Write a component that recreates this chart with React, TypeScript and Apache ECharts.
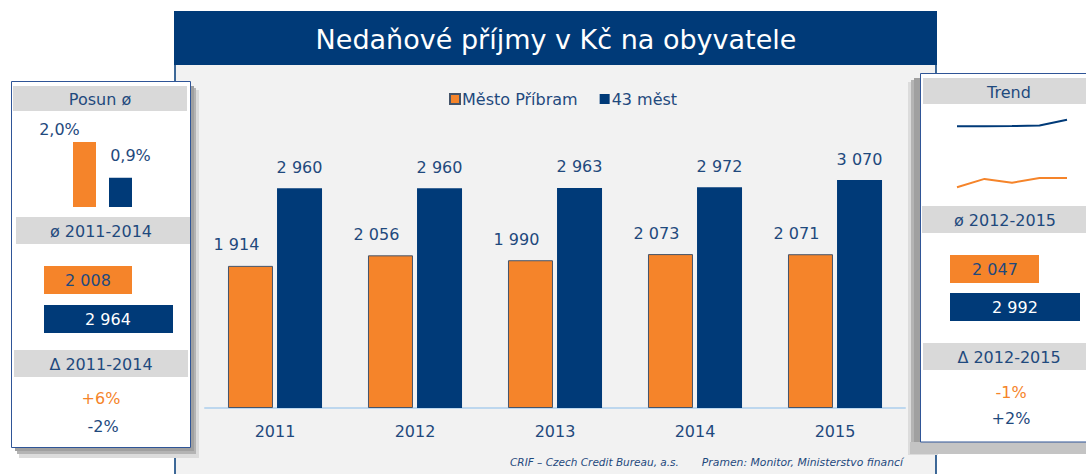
import React, { useEffect, useRef } from "react";
import * as echarts from "echarts";

const years = ["2011", "2012", "2013", "2014", "2015"];
const pribram = [1914, 2056, 1990, 2073, 2071];
const mest43 = [2960, 2960, 2963, 2972, 3070];
const seriesNames = ["Město Příbram", "43 měst"];
const title = "Nedaňové příjmy v Kč na obyvatele";

const shiftTitle = "Posun ø";
const shiftValues = [2.0, 0.9];
const avgLeftLabel = "ø 2011-2014";
const avgLeft = [2008, 2964];
const deltaLeftLabel = "Δ 2011-2014";
const deltaLeft = ["+6%", "-2%"];

const trendTitle = "Trend";
const avgRightLabel = "ø 2012-2015";
const avgRight = [2047, 2992];
const deltaRightLabel = "Δ 2012-2015";
const deltaRight = ["-1%", "+2%"];

const sourceLeft = "CRIF – Czech Credit Bureau, a.s.";
const sourceRight = "Pramen: Monitor, Ministerstvo financí";

const NAVY = "#003A78";
const ORANGE = "#F5842A";
const TXT = "#1F497D";
const BAND = "#D9D9D9";
const BG = "#F2F2F2";
const FONT = "'DejaVu Sans', Verdana, sans-serif";

const fmt = (v: number) => String(v).replace(/\B(?=(\d{3})+(?!\d))/g, " ");

const rect = (x: number, y: number, w: number, h: number, fill: string, extra: any = {}) => ({
  type: "rect",
  shape: { x, y, width: w, height: h },
  style: { fill, ...extra },
  silent: true,
});

const txt = (
  x: number,
  y: number,
  text: string,
  fill: string,
  size = 16,
  align = "center",
  extra: any = {}
) => ({
  type: "text",
  x,
  y,
  silent: true,
  style: {
    text,
    fill,
    fontSize: size,
    fontFamily: FONT,
    align,
    verticalAlign: "middle",
    ...extra,
  },
});

export default function App() {
  const ref = useRef<HTMLDivElement>(null);
  useEffect(() => {
    if (!ref.current) return;
    const chart = echarts.init(ref.current, undefined, { renderer: "svg" });

    const graphics: any[] = [
      // main frame
      rect(175, 64, 761, 420, BG, { stroke: NAVY, lineWidth: 1.5 }),
      rect(174, 11, 763, 54, NAVY),
      txt(556, 39, title, "#FFFFFF", 27),
      // left panel shadow + panel
      rect(19, 90, 180, 368, "#DCDCDC"),
      rect(17, 88, 179, 366, "#B4B4B4"),
      rect(15, 86, 179, 365, "#A0A0A0"),
      rect(11.5, 81.5, 179, 366, "#FFFFFF", { stroke: "#2F5597", lineWidth: 1 }),
      rect(13, 86, 174, 25, BAND),
      txt(100, 99, shiftTitle, TXT),
      rect(16, 217, 174, 27, BAND),
      txt(101, 231, avgLeftLabel, TXT),
      rect(44, 266, 88, 28, ORANGE),
      txt(88, 280, fmt(avgLeft[0]), TXT),
      rect(44, 305, 129, 28, NAVY),
      txt(108, 319, fmt(avgLeft[1]), "#FFFFFF"),
      rect(14, 350, 174, 27, BAND),
      txt(101, 364, deltaLeftLabel, TXT),
      txt(101, 398, deltaLeft[0], ORANGE),
      txt(103, 426, deltaLeft[1], TXT),
      // right panel shadow + panel
      rect(908, 82, 30, 373, "#DCDCDC"),
      rect(911, 80, 30, 371, "#B4B4B4"),
      rect(914, 78, 30, 368, "#A0A0A0"),
      rect(910, 442, 180, 12, "#C4C4C4"),
      rect(920.5, 73.5, 180, 368.5, "#FFFFFF", { stroke: "#2F5597", lineWidth: 1 }),
      rect(923, 78, 163, 26, BAND),
      txt(1009, 92, trendTitle, TXT),
      rect(922, 206, 164, 27, BAND),
      txt(1005, 220, avgRightLabel, TXT),
      rect(950, 255, 89, 28, ORANGE),
      txt(995, 269, fmt(avgRight[0]), TXT),
      rect(950, 293, 130, 28, NAVY),
      txt(1015, 307, fmt(avgRight[1]), "#FFFFFF"),
      rect(923, 343, 163, 27, BAND),
      txt(1009, 357, deltaRightLabel, TXT),
      txt(1011, 392, deltaRight[0], ORANGE),
      txt(1011, 418, deltaRight[1], TXT),
      // footer
      txt(510, 462, sourceLeft, TXT, 10.5, "left", { fontStyle: "italic" }),
      txt(903, 462, sourceRight, TXT, 10.8, "right", { fontStyle: "italic" }),
    ];

    const shiftColors = [ORANGE, NAVY];
    const shiftOffsets = [
      [-25, 0],
      [10, -9],
    ];

    chart.setOption({
      animation: false,
      backgroundColor: "#FFFFFF",
      textStyle: { fontFamily: FONT },
      graphic: { elements: graphics },
      legend: {
        data: seriesNames,
        left: 449,
        top: 91,
        padding: 0,
        itemWidth: 10,
        itemHeight: 10,
        itemGap: 22,
        icon: "rect",
        textStyle: { fontSize: 16, color: TXT, fontFamily: FONT, padding: [0, 0, 0, -3] },
      },
      grid: [
        { left: 205, top: 111, width: 700, height: 297 },
        { left: 66.5, top: 142, width: 72, height: 65 },
        { left: 957, top: 118, width: 110, height: 70 },
      ],
      xAxis: [
        {
          type: "category",
          gridIndex: 0,
          data: years,
          axisLine: { lineStyle: { color: "#BDD7EE", width: 2 } },
          axisTick: { show: false },
          axisLabel: { color: TXT, fontSize: 16, margin: 15, fontFamily: FONT },
        },
        { type: "category", gridIndex: 1, data: ["a", "b"], show: false },
        { type: "category", gridIndex: 2, data: years, show: false, boundaryGap: false },
      ],
      yAxis: [
        { type: "value", gridIndex: 0, min: 0, max: 4000, show: false },
        { type: "value", gridIndex: 1, min: 0, max: 2.0, show: false },
        { type: "value", gridIndex: 2, min: 1900, max: 3100, show: false },
      ],
      series: [
        {
          name: seriesNames[0],
          type: "bar",
          xAxisIndex: 0,
          yAxisIndex: 0,
          data: pribram,
          barWidth: 45,
          barGap: "9%",
          itemStyle: { color: ORANGE, borderColor: "#44546A", borderWidth: 1 },
          label: {
            show: true,
            position: "top",
            distance: 13,
            offset: [-14, 0],
            color: TXT,
            fontSize: 16,
            fontFamily: FONT,
            formatter: (p: any) => fmt(p.value),
          },
        },
        {
          name: seriesNames[1],
          type: "bar",
          xAxisIndex: 0,
          yAxisIndex: 0,
          data: mest43,
          barWidth: 45,
          itemStyle: { color: NAVY },
          label: {
            show: true,
            position: "top",
            distance: 13,
            color: TXT,
            fontSize: 16,
            fontFamily: FONT,
            formatter: (p: any) => fmt(p.value),
          },
        },
        {
          name: "shift",
          type: "bar",
          xAxisIndex: 1,
          yAxisIndex: 1,
          barWidth: 23,
          data: shiftValues.map((v, i) => ({
            value: v,
            itemStyle: { color: shiftColors[i] },
            label: { offset: shiftOffsets[i] },
          })),
          label: {
            show: true,
            position: "top",
            distance: 5,
            color: TXT,
            fontSize: 16,
            fontFamily: FONT,
            formatter: (p: any) => p.value.toFixed(1).replace(".", ",") + "%",
          },
        },
        {
          name: "trend43",
          type: "line",
          xAxisIndex: 2,
          yAxisIndex: 2,
          data: mest43,
          symbol: "none",
          lineStyle: { color: NAVY, width: 2 },
        },
        {
          name: "trendPribram",
          type: "line",
          xAxisIndex: 2,
          yAxisIndex: 2,
          data: pribram,
          symbol: "none",
          lineStyle: { color: ORANGE, width: 2 },
        },
      ],
    });
    return () => chart.dispose();
  }, []);
  return (
    <div
      ref={ref}
      style={{ position: "absolute", left: 0, top: 0, width: 1086, height: 474 }}
    />
  );
}
